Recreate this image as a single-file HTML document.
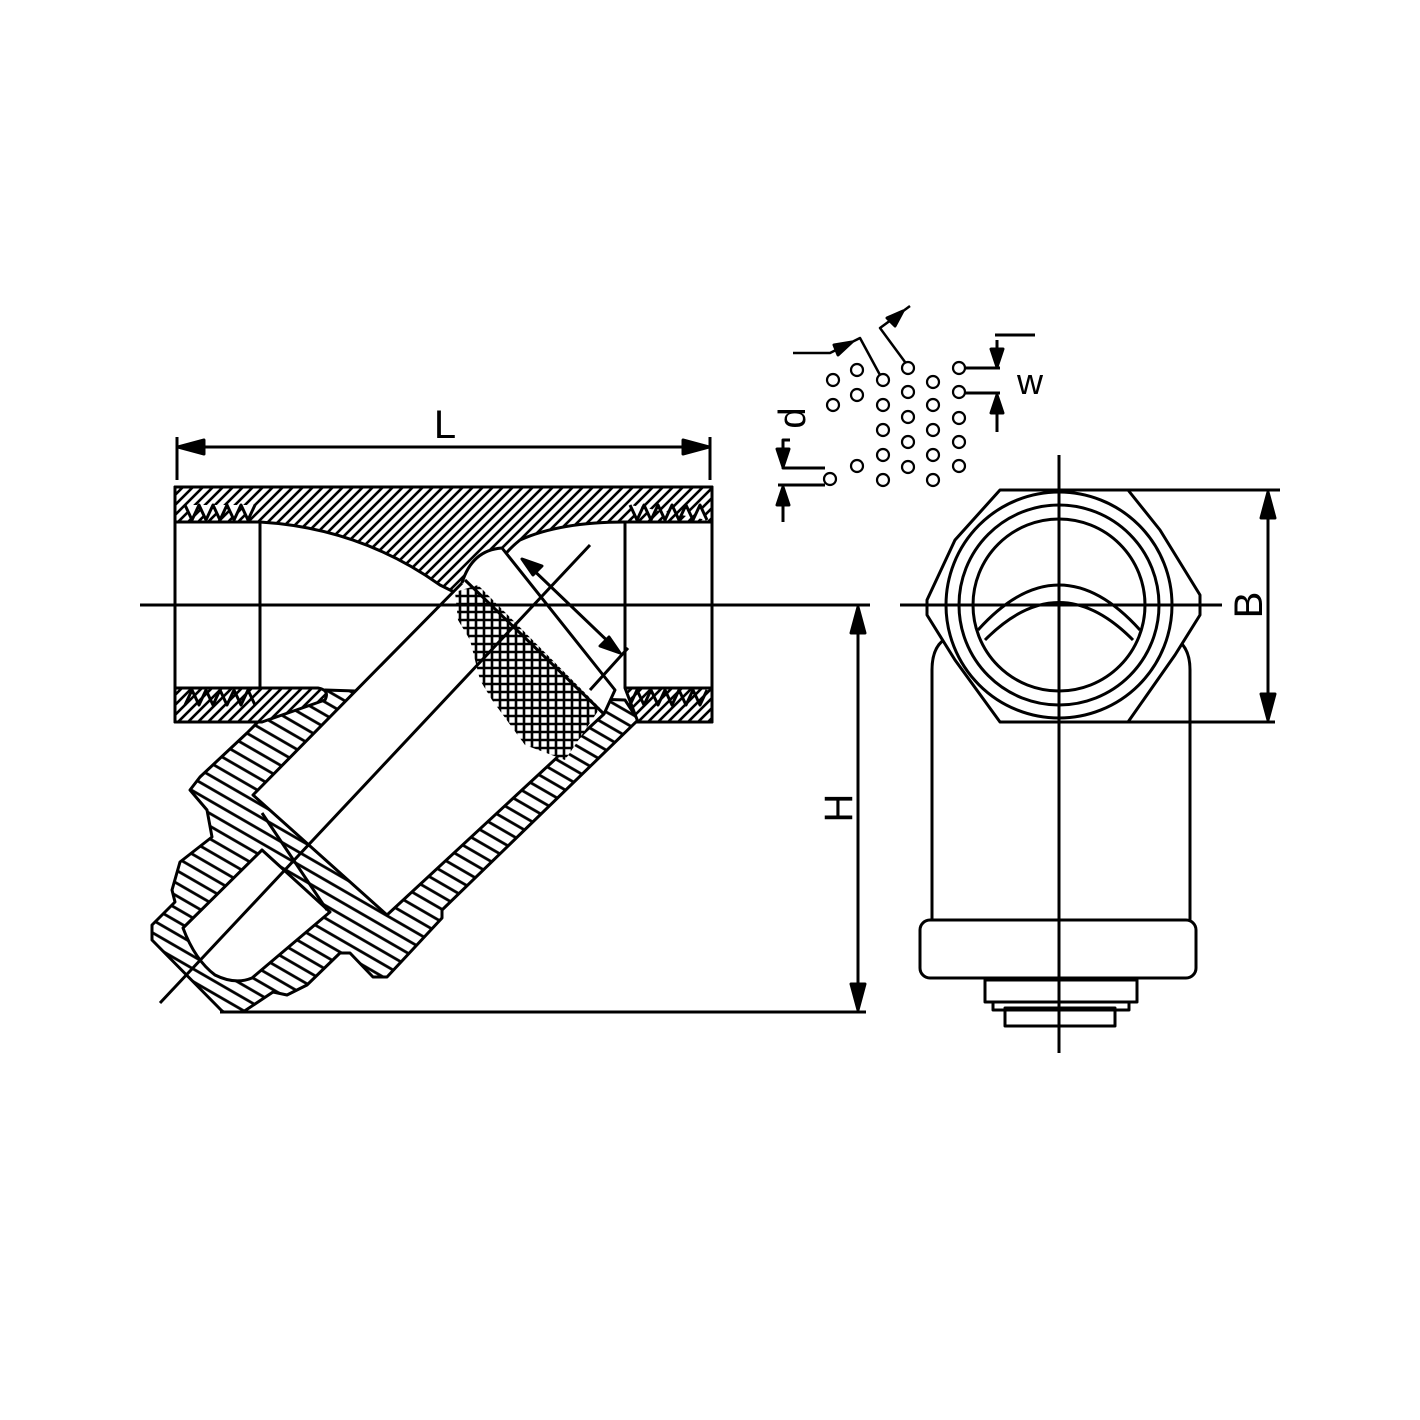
<!DOCTYPE html>
<html><head><meta charset="utf-8"><style>html,body{margin:0;padding:0;background:#fff}svg{display:block}</style></head>
<body>
<svg width="1420" height="1420" viewBox="0 0 1420 1420" xmlns="http://www.w3.org/2000/svg" font-family="Liberation Sans, sans-serif">
<defs>
<pattern id="h" patternUnits="userSpaceOnUse" width="10" height="10">
<rect width="10" height="10" fill="#fff"/>
<path d="M-2,12 L12,-2 M-2,2 L2,-2 M8,12 L12,8" stroke="#000" stroke-width="2.6"/>
</pattern>
<pattern id="h2" patternUnits="userSpaceOnUse" width="11" height="11" patternTransform="rotate(30)">
<rect width="11" height="11" fill="#fff"/>
<path d="M0,5.5 H11" stroke="#000" stroke-width="2.8"/>
</pattern>
<pattern id="g" patternUnits="userSpaceOnUse" width="8" height="8">
<rect width="8" height="8" fill="#fff"/>
<path d="M0,4 H8 M4,0 V8" stroke="#000" stroke-width="2.6"/>
</pattern>
</defs>
<g stroke="#000" stroke-width="3" fill="none" stroke-linejoin="round">
<!-- L dimension -->
<line x1="177" y1="437" x2="177" y2="480"/><line x1="710" y1="437" x2="710" y2="480"/>
<line x1="180" y1="447" x2="707" y2="447"/>
<path d="M178,447 l26,-7 v14 z M709,447 l-26,-7 v14 z" fill="#000"/>
<!-- body outline -->
<rect x="175" y="487" width="537" height="235" fill="#fff"/>
<!-- top band -->
<path d="M175,487 H712 V522 H625 Q560,522 520,540 Q495,560 490,585 L470,600 L440,585 Q360,528 260,522 H175 Z" fill="url(#h)"/>
<!-- lower assembly silhouette -->
<path d="M325,690 L258,722 L247,733 L200,777 L190,790 L207,810 L212,837 L180,862 L172,890 L175,902 L152,925 L152,940 L223,1012 L243,1012 L273,992 L287,995 L307,985 L340,953 L350,953 L373,977 L387,977 L442,918 L442,910 L638,720 L625,700 Z" fill="url(#h2)"/>
<!-- bottom left band -->
<path d="M175,688 H318 Q330,690 325,700 L262,722 H175 Z" fill="url(#h)"/>
<!-- bottom right band -->
<path d="M625,688 H712 V722 H638 Z" fill="url(#h)"/>
<!-- inner chamber lines -->
<line x1="260" y1="522" x2="260" y2="688"/>
<line x1="625" y1="522" x2="625" y2="688"/>
<!-- threads -->
<polyline points="185,505 192,520 199,505 206,520 213,505 220,520 227,505 234,520 241,505 248,520 255,505" fill="#fff"/>
<polyline points="630,505 637,520 644,505 651,520 658,505 665,520 672,505 679,520 686,505 693,520 700,505 707,520" fill="#fff"/>
<polyline points="185,705 192,690 199,705 206,690 213,705 220,690 227,705 234,690 241,705 248,690 255,705"/>
<polyline points="630,705 637,690 644,705 651,690 658,705 665,690 672,705 679,690 686,705 693,690 700,705 707,690"/>
<!-- screen cylinder -->
<path d="M253,795 L465,580 L604,714 L387,915 Z" fill="#fff"/>
<!-- cap tube -->
<path d="M183,928 L262,850 L330,912 L252,978 Q235,985 215,975 Q195,960 183,928 Z" fill="#fff"/>
<line x1="262" y1="813" x2="327" y2="910"/>
<!-- screen top cap -->
<path d="M462,583 Q472,550 502,548 L615,690 L604,714" fill="#fff"/>
<!-- mesh -->
<path d="M455,592 L478,585 L600,708 L565,760 L525,745 L492,700 L480,680 L470,640 L458,620 Z" fill="url(#g)" stroke="none"/>
<line x1="465" y1="580" x2="604" y2="714"/>
<!-- dimension on screen -->
<line x1="525" y1="562" x2="617" y2="650"/>
<path d="M522,559 l20,7 l-9,9 z M620,653 l-20,-7 l9,-9 z" fill="#000"/>
<line x1="590" y1="690" x2="628" y2="648"/>
<!-- centerlines -->
<line x1="140" y1="605" x2="870" y2="605"/>
<line x1="160" y1="1003" x2="590" y2="545"/>
<!-- H dimension -->
<line x1="220" y1="1012" x2="866" y2="1012"/>
<line x1="858" y1="610" x2="858" y2="1007"/>
<path d="M858,607 l-7,26 h14 z M858,1010 l-7,-26 h14 z" fill="#000"/>
<!-- right view -->
<path d="M932,920 V670 Q932,640 955,635 M1190,920 V670 Q1190,640 1165,635" />
<rect x="920" y="920" width="276" height="58" rx="10" fill="#fff"/>
<rect x="985" y="980" width="152" height="22" fill="#fff"/>
<rect x="993" y="1002" width="136" height="8"/>
<rect x="1005" y="1008" width="110" height="18"/>
<path d="M1000,490 H1128 L1160,530 L1200,595 L1200,615 L1175,655 L1128,722 H1000 L955,660 L927,615 V600 L955,540 Z" fill="#fff"/>
<circle cx="1059" cy="605" r="113"/>
<circle cx="1059" cy="605" r="100"/>
<circle cx="1059" cy="605" r="86"/>
<path d="M978,630 Q1059,540 1140,630"/>
<path d="M985,640 Q1059,565 1133,640"/>
<line x1="1059" y1="455" x2="1059" y2="1053"/>
<line x1="900" y1="605" x2="1222" y2="605"/>
<!-- B dimension -->
<line x1="1128" y1="490" x2="1280" y2="490"/>
<line x1="1125" y1="722" x2="1275" y2="722"/>
<line x1="1268" y1="495" x2="1268" y2="717"/>
<path d="M1268,492 l-7,26 h14 z M1268,720 l-7,-26 h14 z" fill="#000"/>
<!-- dots -->
<g stroke-width="2.2" fill="#fff">
<circle cx="833" cy="380" r="6"/><circle cx="833" cy="405" r="6"/><circle cx="830" cy="479" r="6"/>
<circle cx="857" cy="370" r="6"/><circle cx="857" cy="395" r="6"/><circle cx="857" cy="466" r="6"/>
<circle cx="883" cy="380" r="6"/><circle cx="883" cy="405" r="6"/><circle cx="883" cy="430" r="6"/><circle cx="883" cy="455" r="6"/><circle cx="883" cy="480" r="6"/>
<circle cx="908" cy="368" r="6"/><circle cx="908" cy="392" r="6"/><circle cx="908" cy="417" r="6"/><circle cx="908" cy="442" r="6"/><circle cx="908" cy="467" r="6"/>
<circle cx="933" cy="382" r="6"/><circle cx="933" cy="405" r="6"/><circle cx="933" cy="430" r="6"/><circle cx="933" cy="455" r="6"/><circle cx="933" cy="480" r="6"/>
<circle cx="959" cy="368" r="6"/><circle cx="959" cy="392" r="6"/><circle cx="959" cy="418" r="6"/><circle cx="959" cy="442" r="6"/><circle cx="959" cy="466" r="6"/>
</g>
<!-- pitch arrows -->
<polyline points="793,353 830,353 860,338 880,375" stroke-width="2.5"/>
<path d="M852,342 l-18,3 l4,10 z" fill="#000"/>
<polyline points="905,362 880,328 910,306" stroke-width="2.5"/>
<path d="M903,311 l-8,15 l-8,-8 z" fill="#000"/>
<!-- w -->
<line x1="995" y1="335" x2="1035" y2="335"/>
<line x1="965" y1="368" x2="1000" y2="368"/>
<line x1="965" y1="393" x2="1000" y2="393"/>
<line x1="997" y1="340" x2="997" y2="365"/>
<line x1="997" y1="398" x2="997" y2="432"/>
<path d="M997,367 l-6,-18 h12 z M997,395 l-6,18 h12 z" fill="#000"/>
<!-- d -->
<polyline points="790,440 783,440 783,468 825,468"/>
<line x1="778" y1="485" x2="825" y2="485"/>
<line x1="783" y1="488" x2="783" y2="522"/>
<path d="M783,467 l-6,-18 h12 z M783,487 l-6,18 h12 z" fill="#000"/>
</g>
<g font-size="40" fill="#000">
<text x="445" y="438" text-anchor="middle">L</text>
<text x="1030" y="394" text-anchor="middle" font-size="36">w</text>
<text transform="translate(805,418) rotate(-90)" text-anchor="middle" font-size="38">d</text>
<text transform="translate(852,808) rotate(-90)" text-anchor="middle">H</text>
<text transform="translate(1262,605) rotate(-90)" text-anchor="middle">B</text>
</g>
</svg>
</body></html>
